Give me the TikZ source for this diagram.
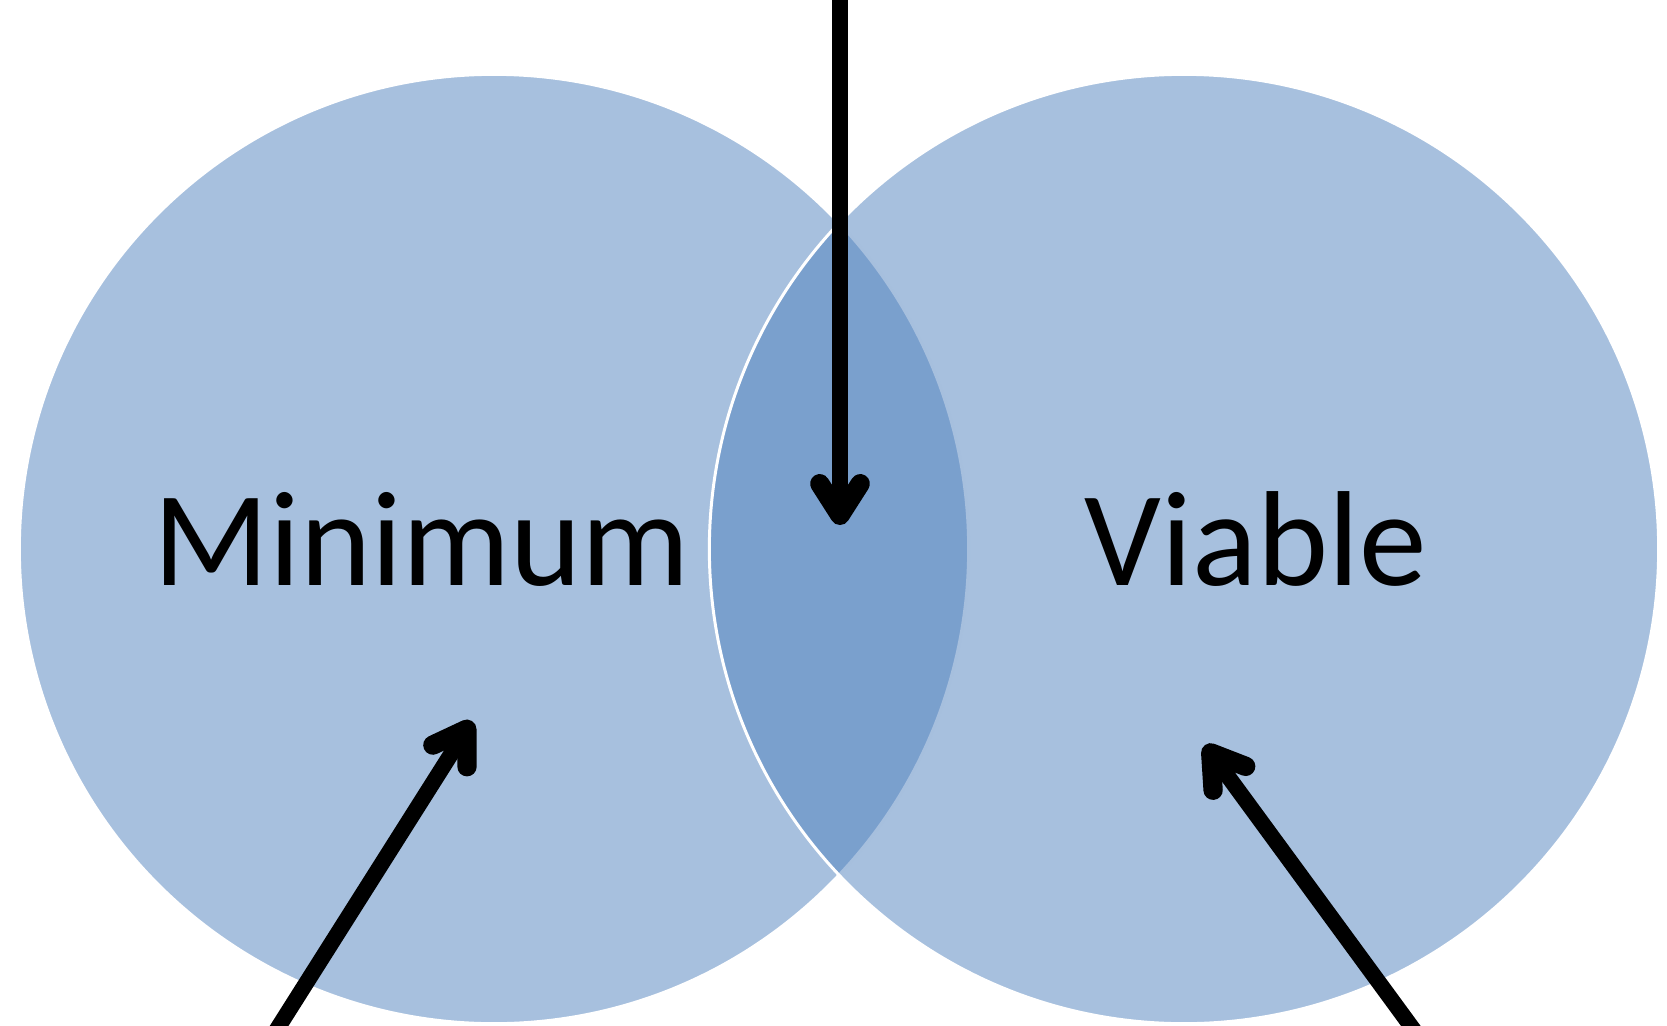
\documentclass[tikz,border=0pt]{standalone}
\usepackage{fontspec}
\setmainfont{Carlito}
\usetikzlibrary{arrows.meta}
\definecolor{vennblue}{HTML}{4F81BD}

\begin{document}
\begin{tikzpicture}[x=0.02cm,y=-0.02cm,line cap=round,
  >={Straight Barb[length=18pt,width=23pt,line width=11pt,line join=round,line cap=round]},
  set/.style={circle,minimum size=18.99cm,inner sep=0pt,fill=vennblue,fill opacity=0.5,draw=white,line width=1.7pt},
  word/.style={font=\fontsize{77}{80}\selectfont,anchor=base,inner sep=0pt},
  pointer/.style={->,line width=9pt}]
\useasboundingbox (0,0) rectangle (1667,1025);
% the two sets
\node[set] (minset) at (494,549) {};
\node[set] (viaset) at (1184,549) {};
\node[word] (minword) at (422,585) {Minimum};
\node[word] (viaword) at (1256,585) {Viable};
% arrows
\coordinate (topfoot) at (840,0);
\coordinate (toptip) at (840,525);
\coordinate (leftfoot) at (274,1034);
\coordinate (lefttip) at (472,721);
\coordinate (rightfoot) at (1416,1033);
\coordinate (righttip) at (1205,745);
\draw[pointer] (topfoot) -- (toptip);
\draw[pointer] (leftfoot) -- (lefttip);
\draw[pointer] (rightfoot) -- (righttip);
\end{tikzpicture}
\end{document}
